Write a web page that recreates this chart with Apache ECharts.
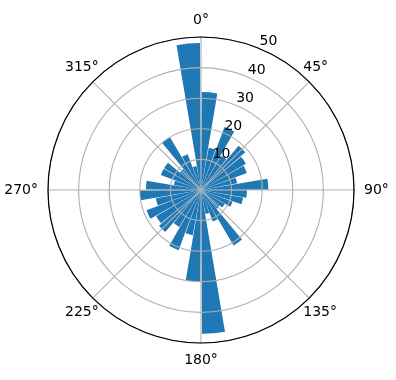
<!DOCTYPE html>
<html>
<head>
<meta charset="utf-8">
<script src="https://cdn.jsdelivr.net/npm/echarts@6/dist/echarts.min.js"></script>
<style>html,body{margin:0;padding:0;background:#fff;}#c{width:396px;height:380px;}</style>
</head>
<body>
<div id="c"></div>
<script>
// 36 direction bins of 10 degrees (clockwise from north)
const binLabels = ['0','10','20','30','40','50','60','70','80','90','100','110','120','130','140','150','160','170',
  '180','190','200','210','220','230','240','250','260','270','280','290','300','310','320','330','340','350'];
const counts = [32, 14, 22, 13, 19, 17, 16, 12, 22, 15, 14, 11, 9, 8, 21, 11, 8, 47,
  30, 15, 21, 14, 18, 17, 19, 15, 20, 18, 9, 14, 14, 9, 20, 12.5, 8, 48];
const angleTickLabels = ['0°','45°','90°','135°','180°','225°','270°','315°'];
const radiusTicks = [10, 20, 30, 40, 50];

const chart = echarts.init(document.getElementById('c'));
const C = [201, 190], R = 153;
const font = 'DejaVu Sans';
function angleLabel(v) {
  if (v >= 360) return '';
  const i = Math.round(v / 45);
  const t = angleTickLabels[i];
  if (i === 1 || i === 3) return '{l|' + t + '}';
  if (i === 5 || i === 7) return '{r|' + t + '}';
  return '{n|' + t + '}';
}
chart.setOption({
  animation: false,
  polar: [
    {center: C, radius: R},
    {center: C, radius: R},
    {center: C, radius: R}
  ],
  angleAxis: [
    {polarIndex: 0, type: 'category', data: binLabels, startAngle: 90, clockwise: true, boundaryGap: true,
     axisLine: {show: false}, axisTick: {show: false}, axisLabel: {show: false}, splitLine: {show: false}},
    {polarIndex: 1, type: 'value', min: 0, max: 360, interval: 45, startAngle: 90, clockwise: true, z: 5,
     axisLine: {show: true, lineStyle: {color: '#000', width: 1.2}},
     axisTick: {show: false},
     axisLabel: {show: true, margin: 10, color: '#000', fontFamily: font, fontSize: 14,
       formatter: angleLabel,
       rich: {
         n: {fontFamily: font, fontSize: 14, color: '#000'},
         l: {fontFamily: font, fontSize: 14, color: '#000', padding: [0, 0, 0, -13]},
         r: {fontFamily: font, fontSize: 14, color: '#000', padding: [0, -13, 0, 0]}
       }},
     splitLine: {show: true, lineStyle: {color: '#b0b0b0', width: 1.1}}},
    {polarIndex: 2, type: 'value', min: 0, max: 360, startAngle: 67.5, clockwise: true,
     axisLine: {show: false}, axisTick: {show: false}, axisLabel: {show: false}, splitLine: {show: false}}
  ],
  radiusAxis: [
    {polarIndex: 0, type: 'value', min: 0, max: 50, axisLine: {show: false}, axisTick: {show: false},
     axisLabel: {show: false}, splitLine: {show: false}},
    {polarIndex: 1, type: 'value', min: 0, max: 50, interval: 10, z: 5, axisLine: {show: false}, axisTick: {show: false},
     axisLabel: {show: false}, splitLine: {show: true, lineStyle: {color: '#b0b0b0', width: 1.1}}},
    {polarIndex: 2, type: 'value', min: 0, max: 50, interval: 10, z: 6, axisLine: {show: false}, axisTick: {show: false},
     axisLabel: {show: true, color: '#000', fontFamily: font, fontSize: 14, margin: 0,
       align: 'left', verticalAlign: 'bottom',
       formatter: v => radiusTicks.indexOf(v) >= 0 ? String(v) : ''},
     splitLine: {show: false}}
  ],
  series: [{
    type: 'bar', coordinateSystem: 'polar', polarIndex: 0,
    data: counts, barCategoryGap: '8%',
    itemStyle: {color: '#1f77b4'}
  }]
});
</script>
</body>
</html>
